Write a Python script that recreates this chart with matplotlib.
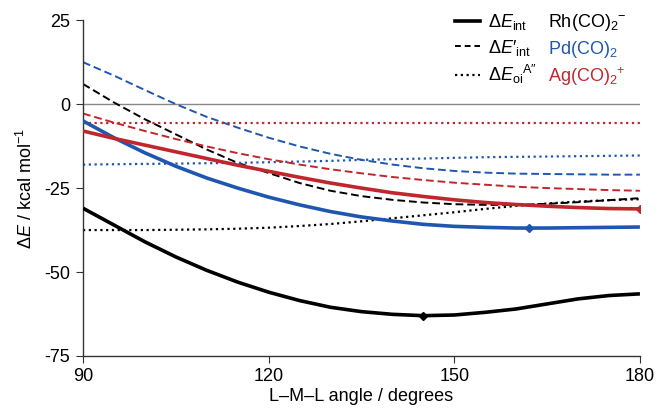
import matplotlib
matplotlib.use("Agg")
import matplotlib.pyplot as plt
from matplotlib.lines import Line2D

plt.rcParams["font.family"] = ["Liberation Sans", "DejaVu Sans"]
plt.rcParams["mathtext.fontset"] = "custom"
plt.rcParams["mathtext.rm"] = "Liberation Sans"
plt.rcParams["mathtext.it"] = "Liberation Sans:italic"
plt.rcParams["mathtext.bf"] = "Liberation Sans:bold"
plt.rcParams["axes.unicode_minus"] = False

BLACK = "#000000"
BLUE = "#1f57b0"
RED = "#c0272d"

angles = [90, 95, 100, 105, 110, 115, 120, 125, 130, 135, 140, 145, 150, 155, 160, 165, 170, 175, 180]

# Rh(CO)2-
rh_int = [-31, -36, -41, -45.5, -49.5, -53, -56, -58.5, -60.5, -61.8, -62.6, -63, -62.8, -62, -61, -59.5, -58, -57, -56.5]
rh_int_p = [6, 0.5, -4.5, -9, -13.5, -17.5, -20.5, -23.5, -25.8, -27.4, -28.5, -29.3, -29.8, -30, -30, -29.7, -29.2, -28.6, -28]
rh_oi = [-37.5, -37.5, -37.5, -37.4, -37.3, -37.1, -36.8, -36.3, -35.7, -34.9, -34, -33.1, -32.2, -31.2, -30.3, -29.6, -29, -28.6, -28.3]

# Pd(CO)2
pd_int = [-5, -10, -14.5, -18.5, -22, -25, -27.7, -30, -32, -33.6, -34.8, -35.8, -36.4, -36.7, -36.9, -36.9, -36.8, -36.7, -36.6]
pd_int_p = [12.5, 8.5, 4.2, 0, -3.8, -7, -10, -12.6, -14.8, -16.6, -18, -19.1, -19.9, -20.4, -20.7, -20.8, -20.9, -21, -21]
pd_oi = [-18, -17.9, -17.8, -17.7, -17.6, -17.5, -17.3, -17.1, -16.9, -16.6, -16.4, -16.2, -16, -15.8, -15.7, -15.6, -15.5, -15.4, -15.3]

# Ag(CO)2+
ag_int = [-8, -10.2, -12.2, -14.2, -16.2, -18.2, -20, -21.8, -23.5, -25, -26.4, -27.5, -28.5, -29.3, -29.9, -30.4, -30.8, -31.1, -31.2]
ag_int_p = [-2.8, -5.5, -8, -10.4, -12.6, -14.6, -16.4, -18, -19.4, -20.6, -21.7, -22.6, -23.4, -24, -24.6, -25, -25.3, -25.6, -25.8]
ag_oi = [-5.6] * len(angles)

# minima of the interaction energy (angle, energy)
min_angles = [145, 162, 180]
min_values = [-63, -37, -31.2]

species = ["Rh(CO)$_2$$^{\u2212}$", "Pd(CO)$_2$", "Ag(CO)$_2$$^{+}$"]
colors = [BLACK, BLUE, RED]

fig = plt.figure(figsize=(6.56, 4.12), dpi=100)
ax = fig.add_axes([0.1265, 0.136, 0.849, 0.815])

ax.axhline(0, color="#888888", lw=1.0, zorder=1)

for ints, intp, oi, c in [(rh_int, rh_int_p, rh_oi, BLACK),
                          (pd_int, pd_int_p, pd_oi, BLUE),
                          (ag_int, ag_int_p, ag_oi, RED)]:
    ax.plot(angles, oi, color=c, lw=1.6, ls=(0, (1, 1.6)), zorder=2)
    ax.plot(angles, intp, color=c, lw=1.4, ls=(0, (4, 2)), zorder=2)
    ax.plot(angles, ints, color=c, lw=2.6, zorder=3, solid_capstyle="butt")

for a, v, c in zip(min_angles, min_values, colors):
    ax.plot([a], [v], marker="D", ms=4, color=c, zorder=4)

ax.set_xlim(90, 180)
ax.set_ylim(-75, 25)
ax.set_xticks([90, 120, 150, 180])
ax.set_yticks([25, 0, -25, -50, -75])
ax.spines["top"].set_visible(False)
ax.spines["right"].set_visible(False)
for s in ["left", "bottom"]:
    ax.spines[s].set_color("#333333")
    ax.spines[s].set_linewidth(1.0)
ax.tick_params(labelsize=13, length=5, direction="out", color="#333333", pad=4)
ax.set_xlabel("L\u2013M\u2013L angle / degrees", fontsize=13, labelpad=2)
ax.set_ylabel(r"$\Delta E$ / kcal mol$^{-1}$", fontsize=13, labelpad=6)

handles = [Line2D([], [], color=BLACK, lw=2.6),
           Line2D([], [], color=BLACK, lw=1.4, ls=(0, (3, 2))),
           Line2D([], [], color=BLACK, lw=1.6, ls=(0, (1, 1.6)))]
labels = ["$\\Delta E_{\\rm int}$",
          "$\\Delta E$\u2032$_{\\rm int}$",
          "$\\Delta E_{\\rm oi}$$^{\\rm A\u2033}$"]
leg = ax.legend(handles, labels, loc="upper left", bbox_to_anchor=(0.655, 1.045),
                frameon=False, fontsize=13, handlelength=1.4, handletextpad=0.4,
                labelspacing=0.3, borderaxespad=0)

for i, (name, c) in enumerate(zip(species, colors)):
    fig.text(0.835, 0.945 - i * 0.066, name, color=c, fontsize=13, va="center", ha="left")

fig.savefig("out.png", dpi=100)
